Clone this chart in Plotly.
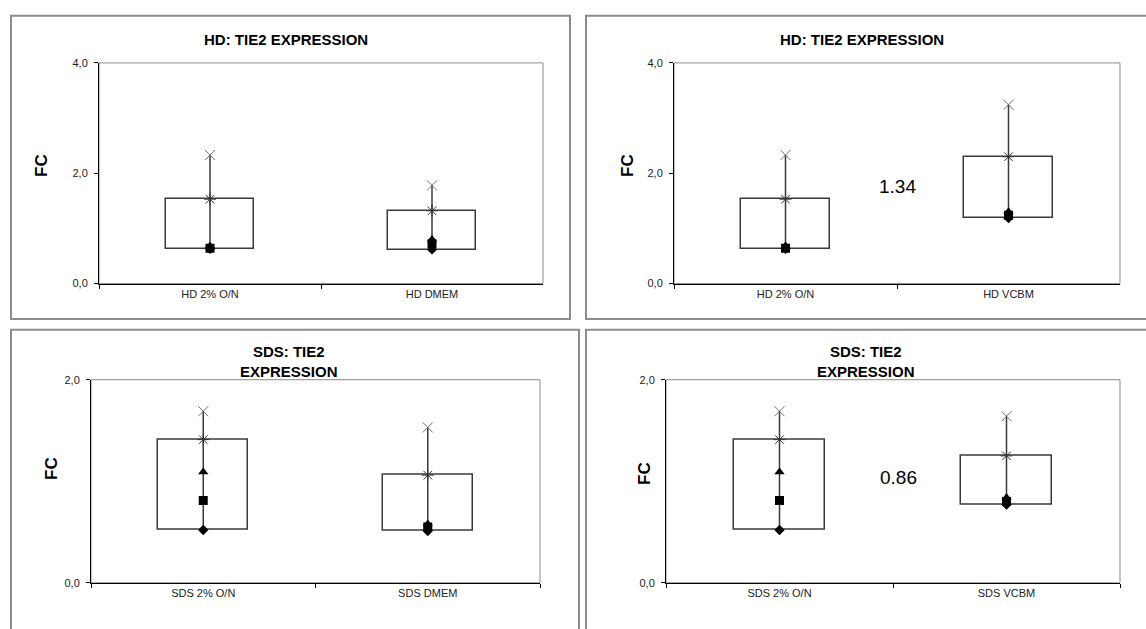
import plotly.graph_objects as go

# ---- data -------------------------------------------------------------
hd_dmem_cats = ["HD 2% O/N", "HD DMEM"]
hd_dmem_max = [2.33, 1.78]
hd_dmem_q3 = [1.53, 1.32]
hd_dmem_median = [0.68, 0.80]
hd_dmem_q1 = [0.64, 0.72]
hd_dmem_min = [0.63, 0.62]

hd_vcbm_cats = ["HD 2% O/N", "HD VCBM"]
hd_vcbm_max = [2.33, 3.24]
hd_vcbm_q3 = [1.53, 2.30]
hd_vcbm_median = [0.68, 1.30]
hd_vcbm_q1 = [0.64, 1.24]
hd_vcbm_min = [0.63, 1.19]
hd_vcbm_ratio = "1.34"

sds_dmem_cats = ["SDS 2% O/N", "SDS DMEM"]
sds_dmem_max = [1.69, 1.53]
sds_dmem_q3 = [1.41, 1.06]
sds_dmem_median = [1.09, 0.58]
sds_dmem_q1 = [0.81, 0.55]
sds_dmem_min = [0.52, 0.51]

sds_vcbm_cats = ["SDS 2% O/N", "SDS VCBM"]
sds_vcbm_max = [1.69, 1.64]
sds_vcbm_q3 = [1.41, 1.25]
sds_vcbm_median = [1.09, 0.84]
sds_vcbm_q1 = [0.81, 0.80]
sds_vcbm_min = [0.52, 0.77]
sds_vcbm_ratio = "0.86"

hd_ticks = [0, 2, 4]
hd_ticktext = ["0,0", "2,0", "4,0"]
sds_ticks = [0, 2]
sds_ticktext = ["0,0", "2,0"]

W, H = 1146, 629
FONT = "Liberation Sans, Arial, sans-serif"


def px(x):
    return x / W


def py(y):
    return 1 - y / H


fig = go.Figure()

panels = [
    # (axis suffix, cats, max, q3, median, q1, min, yrange, ticks, ticktext, xdom, ydom)
    ("", hd_dmem_cats, hd_dmem_max, hd_dmem_q3, hd_dmem_median, hd_dmem_q1, hd_dmem_min,
     [0, 4], hd_ticks, hd_ticktext, (99, 543), (58, 283)),
    ("2", hd_vcbm_cats, hd_vcbm_max, hd_vcbm_q3, hd_vcbm_median, hd_vcbm_q1, hd_vcbm_min,
     [0, 4], hd_ticks, hd_ticktext, (674, 1120), (58, 283)),
    ("3", sds_dmem_cats, sds_dmem_max, sds_dmem_q3, sds_dmem_median, sds_dmem_q1, sds_dmem_min,
     [0, 2], sds_ticks, sds_ticktext, (91, 540), (381, 588)),
    ("4", sds_vcbm_cats, sds_vcbm_max, sds_vcbm_q3, sds_vcbm_median, sds_vcbm_q1, sds_vcbm_min,
     [0, 2], sds_ticks, sds_ticktext, (666, 1120), (381, 588)),
]

for sfx, cats, vmax, q3, med, q1, vmin, yr, tv, tt, xd, yd in panels:
    xa, ya = "x" + sfx, "y" + sfx
    # box from the minimum up to the upper quartile
    fig.add_trace(go.Bar(
        x=cats, y=[h - l for h, l in zip(q3, vmin)], base=vmin, width=0.4,
        marker=dict(color="white", line=dict(color="#3a3a3a", width=1.5)),
        xaxis=xa, yaxis=ya, showlegend=False, hoverinfo="skip"))
    # whisker from min to max
    wx, wy = [], []
    for c, lo, hi in zip(cats, vmin, vmax):
        wx += [c, c, None]
        wy += [lo, hi, None]
    fig.add_trace(go.Scatter(
        x=wx, y=wy, mode="lines", line=dict(color="#3a3a3a", width=1.5),
        xaxis=xa, yaxis=ya, showlegend=False, hoverinfo="skip"))
    markers = [
        (vmin, "diamond", 8),
        (q1, "square", 9),
        (med, "triangle-up", 9),
    ]
    for vals, sym, size in markers:
        fig.add_trace(go.Scatter(
            x=cats, y=vals, mode="markers",
            marker=dict(symbol=sym, size=size, color="black", line=dict(width=0)),
            xaxis=xa, yaxis=ya, showlegend=False))
    fig.add_trace(go.Scatter(
        x=cats, y=q3, mode="markers",
        marker=dict(symbol="asterisk-open", size=10, color="#333333",
                    line=dict(color="#333333", width=1)),
        xaxis=xa, yaxis=ya, showlegend=False))
    fig.add_trace(go.Scatter(
        x=cats, y=vmax, mode="markers",
        marker=dict(symbol="x-thin-open", size=10, color="#707070",
                    line=dict(color="#707070", width=1)),
        xaxis=xa, yaxis=ya, showlegend=False))

    xkey = "xaxis" + sfx
    ykey = "yaxis" + sfx
    fig.update_layout({
        xkey: dict(
            domain=[px(xd[0]), px(xd[1])], anchor=ya, type="category",
            categoryorder="array", categoryarray=cats, range=[-0.5, 1.5],
            tickson="boundaries", ticks="outside", ticklen=4, tickcolor="black",
            showline=True, linecolor="black", linewidth=1, showgrid=False,
            tickfont=dict(family=FONT, size=11, color="#222"), fixedrange=True),
        ykey: dict(
            domain=[py(yd[1]), py(yd[0])], anchor=xa, range=yr,
            tickvals=tv, ticktext=tt, ticks="outside", ticklen=4, tickcolor="black",
            showline=True, linecolor="black", linewidth=1, showgrid=False,
            zeroline=False, ticklabelstandoff=4,
            tickfont=dict(family=FONT, size=11, color="#222"), fixedrange=True),
    })
    # plot-area border (top and right in grey)
    fig.add_shape(type="rect", xref=xa + " domain", yref=ya + " domain",
                  x0=0, x1=1, y0=0, y1=1, line=dict(color="#8a8a8a", width=1),
                  layer="below")

# chart frames
frames = [(11, 570, 10, 319), (586, 1160, 10, 319), (11, 579, 330, 640), (586, 1160, 330, 640)]
for x0, x1, y0, y1 in frames:
    fig.add_shape(type="rect", xref="paper", yref="paper",
                  x0=px(x0), x1=px(x1), y0=py(y1), y1=py(y0),
                  line=dict(color="#8c8c8c", width=2), layer="below")

annotations = []
titles = [
    ("HD: TIE2 EXPRESSION", 286, 34),
    ("HD: TIE2 EXPRESSION", 862, 34),
    ("SDS: TIE2<br>EXPRESSION", 289, 362),
    ("SDS: TIE2<br>EXPRESSION", 866, 362),
]
for text, x, y in titles:
    annotations.append(dict(text="<b>%s</b>" % text, x=px(x), y=py(y), xref="paper", yref="paper",
                            showarrow=False, xanchor="center", yanchor="middle",
                            font=dict(family=FONT, size=15, color="black")))
for x, y in [(42, 163), (628, 163), (52, 472), (645, 477)]:
    annotations.append(dict(text="<b>FC</b>", x=px(x), y=py(y), xref="paper", yref="paper",
                            showarrow=False, textangle=-90, xanchor="center", yanchor="middle",
                            font=dict(family=FONT, size=17, color="black")))
annotations.append(dict(text=hd_vcbm_ratio, x=px(897), y=py(184), xref="paper", yref="paper",
                        showarrow=False, xanchor="center", yanchor="middle",
                        font=dict(family=FONT, size=19, color="black")))
annotations.append(dict(text=sds_vcbm_ratio, x=px(898), y=py(481), xref="paper", yref="paper",
                        showarrow=False, xanchor="center", yanchor="middle",
                        font=dict(family=FONT, size=19, color="black")))

fig.update_layout(
    width=W, height=H, margin=dict(l=0, r=0, t=0, b=0),
    paper_bgcolor="white", plot_bgcolor="white",
    annotations=annotations, showlegend=False, bargap=0,
    font=dict(family=FONT),
)

fig.write_html("out.html", config={"displayModeBar": False})
